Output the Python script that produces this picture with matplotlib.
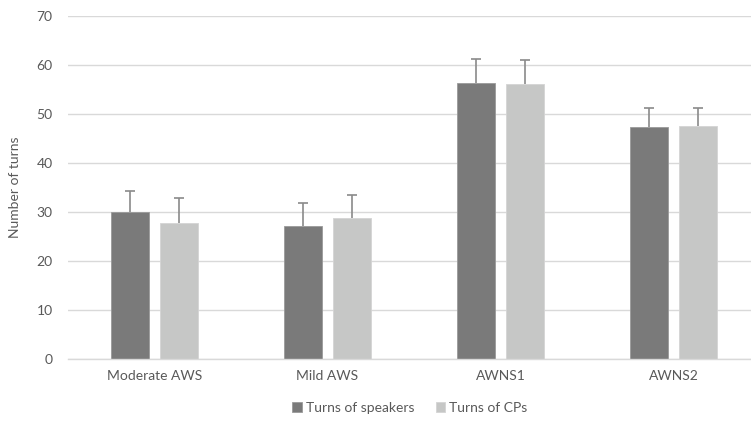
import matplotlib
matplotlib.use("Agg")
import matplotlib.pyplot as plt
import numpy as np

categories = ["Moderate AWS", "Mild AWS", "AWNS1", "AWNS2"]
speakers = [30.0, 27.2, 56.3, 47.4]
speakers_err = [4.3, 4.6, 4.9, 3.8]
cps = [27.7, 28.8, 56.1, 47.6]
cps_err = [5.1, 4.7, 4.9, 3.7]
series_names = ["Turns of speakers", "Turns of CPs"]
yticks = [0, 10, 20, 30, 40, 50, 60, 70]

plt.rcParams['font.family'] = ['Lato', 'DejaVu Sans']
txt = "#595959"
fs = 10.0

fig = plt.figure(figsize=(7.51, 4.21), dpi=100)
W, H = 751, 421
ax = fig.add_axes([68/W, 1-359/H, (760-68)/W, (359-16.3)/H])

x = np.arange(len(categories))
bw = 0.224
off = 0.142
dark = "#7a7a7a"
light = "#c6c7c6"
errc = "#8a8a8a"

ax.bar(x - off, speakers, bw, color=dark, edgecolor="#9a9a9a", linewidth=0.6, zorder=2, label=series_names[0])
ax.bar(x + off, cps, bw, color=light, edgecolor="#d4d4d4", linewidth=0.6, zorder=2, label=series_names[1])
for xs, vals, errs in [(x - off, speakers, speakers_err), (x + off, cps, cps_err)]:
    cont = ax.errorbar(xs, vals, yerr=[np.zeros(len(vals)), errs], fmt="none", ecolor=errc,
                       elinewidth=1.2, capsize=3.5, capthick=1.2, zorder=1.5)
    caps = cont.lines[1]
    for c in caps:
        if np.allclose(c.get_ydata(), vals):
            c.set_visible(False)

ax.set_xlim(-0.5, len(categories) - 0.5)
ax.set_ylim(0, 70)
ax.set_yticks(yticks)
ax.set_xticks(x)
ax.set_xticklabels(categories)
ax.grid(axis="y", color="#d9d9d9", linewidth=1.0, zorder=0)
ax.set_axisbelow(True)
for s in ["top", "right", "left"]:
    ax.spines[s].set_visible(False)
ax.spines["bottom"].set_color("#d9d9d9")
ax.spines["bottom"].set_linewidth(1.0)
ax.spines["bottom"].set_zorder(2.5)
ax.tick_params(axis="both", length=0, colors=txt, labelsize=fs)
ax.tick_params(axis="y", pad=11)
ax.tick_params(axis="x", pad=8)
ax.set_ylabel("Number of turns", color=txt, fontsize=fs, labelpad=11)

leg = fig.legend(loc="center", bbox_to_anchor=(410/W, 1-408/H), ncol=2, frameon=False,
                 fontsize=fs, handlelength=0.7, handleheight=0.7, handletextpad=0.3,
                 columnspacing=1.5)
for t in leg.get_texts():
    t.set_color(txt)

fig.savefig("out.png", dpi=100)
